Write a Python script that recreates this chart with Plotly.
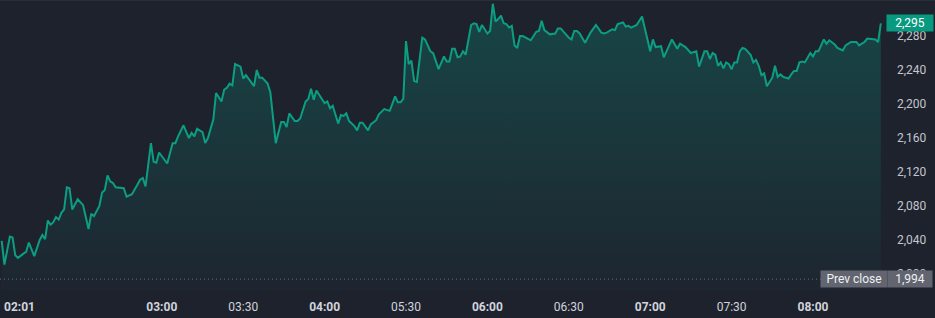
import plotly.graph_objects as go

# ---- data (bar index = minutes since 02:01, session break collapsed) ----
bars = [0, 1, 3, 4, 5, 6, 8, 9, 10, 11, 12, 14, 15, 16, 17, 18, 19, 20, 21, 22, 23, 24, 25, 26, 28, 30,
        32, 33, 34, 36, 37, 38, 39, 40, 41, 42, 45, 46, 48, 50, 51, 52, 53, 55, 56, 57, 58, 61, 63, 64,
        65, 67, 69, 70, 71, 72, 74, 75, 76, 78, 79, 81, 82, 83, 84, 85, 86, 88, 89, 90, 93, 94, 95, 96,
        98, 99, 101, 103, 104, 105, 106, 108, 109,
        110, 112, 113, 114, 115, 116, 118, 119, 120, 121, 122, 124, 125, 126, 127, 128, 130, 131, 132,
        133, 135, 136, 138, 139, 141, 143, 145, 146, 147, 148, 149, 150, 151, 152, 153, 155, 156, 158,
        159, 161, 163, 164, 165, 166, 167, 168, 169, 170, 171, 173, 174, 175, 176, 177, 179, 180, 181,
        182, 183, 184, 185, 186, 187, 188, 189, 190, 191, 192, 195, 197, 198, 199, 200, 202, 204, 205,
        206, 208, 209, 210, 211, 212, 213, 215, 217, 219,
        221, 222, 223, 225, 226, 227, 229, 230, 231, 232, 234, 236, 237, 239, 240, 241, 243, 244, 247,
        249, 250, 252, 254, 256, 257, 259, 260, 261, 262, 263, 264, 265, 266, 267, 268, 269, 270, 271,
        272, 273, 274, 276, 277, 278, 279, 280, 281, 282, 284, 285, 286, 287, 288, 290, 291, 292, 293,
        294, 295, 296, 298, 299, 300, 301, 303, 304, 305, 307, 308, 310, 311, 313, 315, 316, 317, 318,
        319, 321, 322, 323, 324]

prices = [2039, 2011, 2044, 2043, 2022, 2019, 2024, 2026, 2037, 2030, 2021, 2040, 2046, 2041, 2063, 2058,
          2061, 2067, 2064, 2072, 2076, 2102, 2101, 2076, 2088, 2081,
          2053, 2071, 2068, 2080, 2096, 2099, 2116, 2109, 2107, 2102, 2101, 2091, 2094, 2105, 2111, 2113,
          2103, 2154, 2132, 2131, 2143, 2130, 2154, 2154,
          2162, 2175, 2160, 2166, 2162, 2171, 2167, 2154, 2160, 2182, 2213, 2203, 2217, 2219, 2224, 2222,
          2247, 2244, 2230, 2234, 2221, 2240, 2231, 2231,
          2224, 2214, 2154, 2179, 2179, 2173, 2189, 2180, 2180,
          2183, 2203, 2206, 2218, 2205, 2216, 2206, 2201, 2203, 2195, 2198, 2177, 2187, 2186, 2189, 2180,
          2174, 2169, 2178,
          2178, 2169, 2176, 2181, 2188, 2194, 2192, 2209, 2202, 2202, 2206, 2274, 2247, 2251, 2227, 2226,
          2278, 2276, 2262,
          2260, 2241, 2256, 2250, 2250, 2265, 2265, 2255, 2256, 2262, 2258, 2293, 2295, 2294, 2285, 2293,
          2283, 2286, 2318,
          2297, 2300, 2304, 2295, 2294, 2290, 2292, 2269, 2266, 2280, 2280, 2275, 2285, 2286, 2298, 2287,
          2282, 2283, 2289,
          2289, 2282, 2278, 2276, 2286, 2286, 2283, 2272, 2284, 2293,
          2284, 2283, 2284, 2288, 2287, 2294, 2296, 2291, 2292, 2290, 2293, 2303, 2289, 2262, 2276, 2267,
          2268, 2255, 2276,
          2265, 2271, 2267, 2260, 2262, 2244, 2262, 2262, 2253, 2260, 2258, 2245, 2249, 2242, 2249, 2247,
          2241, 2249, 2249,
          2262, 2266, 2265, 2258, 2249, 2252, 2245, 2234, 2236, 2221, 2231, 2245, 2232, 2235, 2232, 2230,
          2235, 2239, 2239,
          2249, 2250, 2249, 2260, 2256, 2262, 2262, 2276, 2271, 2275, 2270, 2266, 2263, 2269, 2273, 2273,
          2269, 2271, 2273,
          2277, 2276, 2276, 2273, 2295]

tick_bars = [59, 89, 119, 149, 179, 209, 239, 269, 299]
tick_labels = ["<b>03:00</b>", "03:30", "<b>04:00</b>", "05:30", "<b>06:00</b>",
               "06:30", "<b>07:00</b>", "07:30", "<b>08:00</b>"]
first_label = "02:01"
price_ticks = [2000, 2040, 2080, 2120, 2160, 2200, 2240, 2280]
prev_close = 1994
last_price = prices[-1]

BG = "#1e222d"
GREEN = "#0c9e82"
FONT = "Roboto"

fig = go.Figure()
fig.add_trace(go.Scatter(
    x=bars, y=prices, mode="lines",
    line=dict(color=GREEN, width=2),
    fill="tozeroy",
    fillgradient=dict(type="vertical",
                      colorscale=[[0, "rgba(8,153,129,0.03)"], [1, "rgba(8,153,129,0.30)"]],
                      start=1981, stop=2318),
    hoverinfo="skip",
))

fig.add_shape(type="line", xref="paper", yref="y", x0=0, x1=1, y0=prev_close, y1=prev_close,
              line=dict(color="#6a6d78", width=1, dash="1px,3px"), layer="above")
fig.add_shape(type="line", xref="paper", yref="paper", x0=0, x1=1.06, y0=1, y1=1,
              line=dict(color="#2a2e39", width=2), layer="above")

fig.add_annotation(xref="paper", yref="y", x=910 / 883, y=last_price, xanchor="center",
                   yanchor="middle",
                   text=f"{last_price:,}", showarrow=False, bgcolor="#089981",
                   width=46, height=16, borderpad=0,
                   font=dict(family=FONT, size=12, color="#ffffff"))
fig.add_annotation(xref="paper", yref="y", x=910 / 883, y=prev_close, xanchor="center",
                   yanchor="middle",
                   text=f"{prev_close:,}", showarrow=False, bgcolor="#62656f",
                   width=44, height=16, borderpad=0,
                   font=dict(family=FONT, size=12, color="#eef0f4"))
fig.add_annotation(xref="paper", yref="y", x=853.5 / 883, y=prev_close, xanchor="center",
                   yanchor="middle",
                   text="Prev close", showarrow=False, bgcolor="#62656f",
                   width=66, height=16, borderpad=0,
                   font=dict(family=FONT, size=12, color="#eef0f4"))
fig.add_annotation(xref="paper", yref="paper", x=0.002, y=-(306.7 - 290) / 290,
                   xanchor="left", yanchor="middle", text=f"<b>{first_label}</b>",
                   showarrow=False, font=dict(family=FONT, size=12, color="#d1d4dc"))

fig.update_layout(
    width=935, height=318,
    margin=dict(l=0, r=52, t=0, b=28),
    paper_bgcolor=BG, plot_bgcolor=BG,
    showlegend=False,
    font=dict(family=FONT, size=12, color="#d1d4dc"),
    xaxis=dict(range=[-0.63, 324.8], tickvals=tick_bars, ticktext=tick_labels,
               showgrid=False, zeroline=False, showline=False, ticks="",
               ticklabelstandoff=8, tickfont=dict(family=FONT, size=12, color="#d1d4dc"),
               fixedrange=True),
    yaxis=dict(side="right", range=[1981.2, 2322.4], tickvals=price_ticks,
               tickformat=",", showgrid=False, zeroline=False, showline=False, ticks="",
               ticklabelstandoff=13, tickfont=dict(family=FONT, size=12, color="#c3c6ce"),
               fixedrange=True),
)

fig.write_html("out.html", config={"displayModeBar": False})
